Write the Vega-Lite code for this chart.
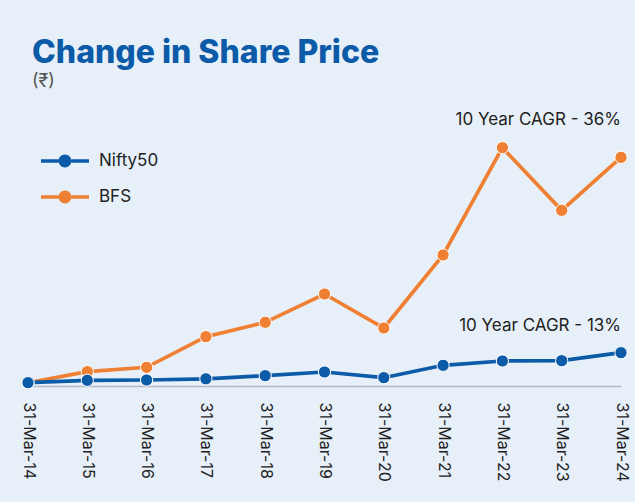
{
  "$schema": "https://vega.github.io/schema/vega-lite/v6.json",
  "width": 593,
  "height": 286,
  "autosize": {"type": "none"},
  "padding": {"left": 28, "top": 100, "right": 14, "bottom": 116},
  "background": "#e7f0f9",
  "title": {
    "text": "Change in Share Price",
    "subtitle": "(₹)",
    "anchor": "start",
    "frame": "group",
    "dx": 4,
    "offset": 8,
    "font": "Inter",
    "fontSize": 32,
    "fontWeight": 800,
    "color": "#0b5ba8",
    "subtitleFont": "Inter",
    "subtitleFontSize": 18,
    "subtitleColor": "#555555",
    "subtitlePadding": 3
  },
  "config": {"view": {"stroke": null}},
  "datasets": {
    "series": [
      {"date": "31-Mar-14", "series": "BFS", "value": 33},
      {"date": "31-Mar-15", "series": "BFS", "value": 143},
      {"date": "31-Mar-16", "series": "BFS", "value": 187},
      {"date": "31-Mar-17", "series": "BFS", "value": 493},
      {"date": "31-Mar-18", "series": "BFS", "value": 637},
      {"date": "31-Mar-19", "series": "BFS", "value": 920},
      {"date": "31-Mar-20", "series": "BFS", "value": 580},
      {"date": "31-Mar-21", "series": "BFS", "value": 1310},
      {"date": "31-Mar-22", "series": "BFS", "value": 2383},
      {"date": "31-Mar-23", "series": "BFS", "value": 1757},
      {"date": "31-Mar-24", "series": "BFS", "value": 2287},
      {"date": "31-Mar-14", "series": "Nifty50", "value": 33},
      {"date": "31-Mar-15", "series": "Nifty50", "value": 57},
      {"date": "31-Mar-16", "series": "Nifty50", "value": 60},
      {"date": "31-Mar-17", "series": "Nifty50", "value": 72},
      {"date": "31-Mar-18", "series": "Nifty50", "value": 103},
      {"date": "31-Mar-19", "series": "Nifty50", "value": 140},
      {"date": "31-Mar-20", "series": "Nifty50", "value": 83},
      {"date": "31-Mar-21", "series": "Nifty50", "value": 207},
      {"date": "31-Mar-22", "series": "Nifty50", "value": 250},
      {"date": "31-Mar-23", "series": "Nifty50", "value": 253},
      {"date": "31-Mar-24", "series": "Nifty50", "value": 333}
    ],
    "notes": [
      {"date": "31-Mar-24", "value": 2660, "label": "10 Year CAGR - 36%"},
      {"date": "31-Mar-24", "value": 600, "label": "10 Year CAGR - 13%"}
    ]
  },
  "layer": [
    {
      "data": {"name": "series"},
      "mark": {"type": "line", "strokeWidth": 3.7},
      "encoding": {
        "x": {
          "field": "date", "type": "ordinal", "sort": null,
          "scale": {"type": "point", "padding": 0},
          "axis": {
            "title": null, "labelAngle": 90, "ticks": false, "grid": false,
            "domainColor": "#b3bac4", "domainWidth": 1.5,
            "labelFont": "Inter", "labelFontSize": 16, "labelColor": "#222222",
            "labelPadding": 16
          }
        },
        "y": {
          "field": "value", "type": "quantitative",
          "scale": {"domain": [0, 2860], "nice": false},
          "axis": null
        },
        "color": {
          "field": "series", "type": "nominal",
          "scale": {"domain": ["Nifty50", "BFS"], "range": ["#0b5ba8", "#ef8033"]},
          "legend": {
            "orient": "none", "legendX": 13, "legendY": 43,
            "title": null, "padding": 0,
            "symbolType": "M-1,-0.073H-0.27V0.073H-1Z M0.27,-0.073H1V0.073H0.27Z M-0.27,0A0.27,0.27 0 1,0 0.27,0A0.27,0.27 0 1,0 -0.27,0Z",
            "symbolSize": 2304,
            "labelFont": "Inter", "labelFontSize": 17, "labelColor": "#222222",
            "labelOffset": 10, "clipHeight": 36, "rowPadding": 0,
            "encode": {"symbols": {"update": {
              "fill": {"scale": "color", "field": "value"},
              "stroke": {"value": "transparent"},
              "strokeWidth": {"value": 0},
              "opacity": {"value": 1},
              "fillOpacity": {"value": 1}
            }}}
          }
        }
      }
    },
    {
      "data": {"name": "series"},
      "mark": {"type": "point", "filled": true, "size": 150, "stroke": "#ffffff", "strokeWidth": 1, "opacity": 1},
      "encoding": {
        "x": {"field": "date", "type": "ordinal", "sort": null},
        "y": {"field": "value", "type": "quantitative"},
        "color": {"field": "series", "type": "nominal"}
      }
    },
    {
      "data": {"name": "notes"},
      "mark": {"type": "text", "align": "right", "baseline": "middle", "font": "Inter", "fontSize": 17, "color": "#222222"},
      "encoding": {
        "x": {"field": "date", "type": "ordinal", "sort": null},
        "y": {"field": "value", "type": "quantitative"},
        "text": {"field": "label"}
      }
    }
  ]
}
